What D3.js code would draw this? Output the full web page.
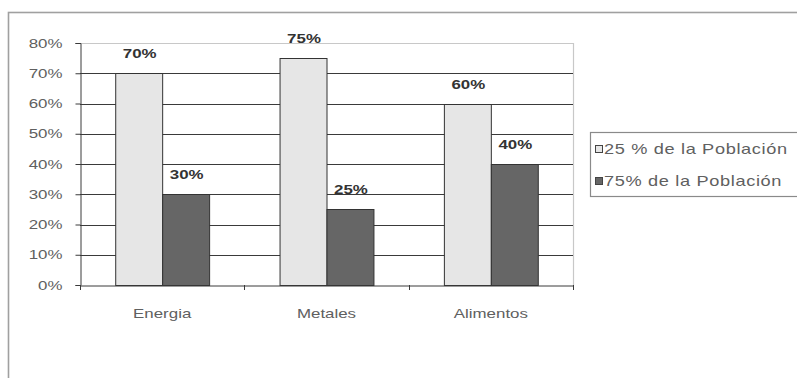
<!DOCTYPE html>
<html>
<head>
<meta charset="utf-8">
<script src="https://cdn.jsdelivr.net/npm/d3@7"></script>
<style>
  html, body { margin: 0; padding: 0; background: #fff; }
  svg { display: block; font-family: "Liberation Sans", Arial, sans-serif; }
</style>
</head>
<body>
<svg id="chart" width="797" height="378"></svg>
<script>
// Distribución del consumo por grupo de población
const categories = ["Energia", "Metales", "Alimentos"];
const seriesNames = ["25 % de la Población", "75% de la Población"];
const poblacion25 = [0.70, 0.75, 0.60];
const poblacion75 = [0.30, 0.25, 0.40];
const yTicks = [0, 0.1, 0.2, 0.3, 0.4, 0.5, 0.6, 0.7, 0.8];
const seriesFill = ["#e6e6e6", "#666666"];

const rows = categories.map((c, i) => ({
  category: c,
  values: [poblacion25[i], poblacion75[i]]
}));

// all text is drawn slightly widened horizontally
const stretch = 1.3;
function widen(sel) {
  sel.attr("transform", function () {
    const x = +this.getAttribute("x") || 0;
    return `translate(${x},0) scale(${stretch},1)`;
  }).attr("x", 0);
}

const svg = d3.select("#chart");
const plot = { left: 80, right: 573, top: 43, bottom: 285 };

// outer frame
svg.append("rect")
  .attr("x", 8.5).attr("y", 12.5)
  .attr("width", 830).attr("height", 420)
  .attr("fill", "none").attr("stroke", "#a0a0a0").attr("stroke-width", 1.6);

const y = d3.scaleLinear().domain([0, 0.8]).range([plot.bottom, plot.top]);
const x0 = d3.scaleBand().domain(categories).range([plot.left, plot.right]).padding(0);
const x1 = d3.scaleBand().domain(d3.range(seriesNames.length))
  .range([0, x0.bandwidth()]).paddingInner(0).paddingOuter(0.75);

// plot area border (top & right)
svg.append("path")
  .attr("d", `M${plot.left},${plot.top + 0.5}H${plot.right + 0.5}V${plot.bottom}`)
  .attr("fill", "none").attr("stroke", "#c8c8c8").attr("stroke-width", 1.2);

// horizontal gridlines
svg.append("g").selectAll("line")
  .data(yTicks.filter(t => t > 0 && t < 0.8))
  .join("line")
  .attr("x1", plot.left).attr("x2", plot.right)
  .attr("y1", d => Math.round(y(d)) + 0.5).attr("y2", d => Math.round(y(d)) + 0.5)
  .attr("stroke", "#3a3a3a").attr("stroke-width", 1);

// bars
const groups = svg.append("g").selectAll("g")
  .data(rows).join("g")
  .attr("transform", d => `translate(${x0(d.category)},0)`);

groups.selectAll("rect")
  .data(d => d.values.map((v, i) => ({ v, i })))
  .join("rect")
  .attr("x", d => x1(d.i) + 0.5)
  .attr("y", d => Math.round(y(d.v)) + 0.5)
  .attr("width", x1.bandwidth())
  .attr("height", d => plot.bottom - Math.round(y(d.v)))
  .attr("fill", d => seriesFill[d.i])
  .attr("stroke", "#333").attr("stroke-width", 1);

// value labels
groups.selectAll("g.val")
  .data(d => d.values.map((v, i) => ({ v, i })))
  .join("g")
  .attr("class", "val")
  .attr("transform", d => `translate(${x1(d.i) + x1.bandwidth() / 2 + 1},${y(d.v) - 15})`)
  .append("text")
  .attr("text-anchor", "middle")
  .attr("font-size", 13).attr("font-weight", "bold").attr("fill", "#333")
  .text(d => d3.format(".0%")(d.v))
  .call(widen);

// y axis
const yAxis = svg.append("g")
  .attr("transform", `translate(${plot.left + 0.5},0)`)
  .call(d3.axisLeft(y).tickValues(yTicks).tickFormat(d3.format(".0%")).tickSize(5).tickPadding(13));
yAxis.select(".domain").attr("stroke", "#3a3a3a");
yAxis.selectAll(".tick line").attr("stroke", "#3a3a3a");
yAxis.selectAll(".tick text").attr("font-size", 13).attr("fill", "#606060")
  .attr("font-family", "'Liberation Sans', Arial, sans-serif")
  .call(widen);

// x axis
const xAxis = svg.append("g")
  .attr("transform", `translate(0,${plot.bottom + 0.5})`)
  .call(d3.axisBottom(x0).tickSize(0).tickPadding(23));
xAxis.select(".domain").attr("stroke", "#3a3a3a");
xAxis.selectAll(".tick text").attr("font-size", 13).attr("fill", "#606060")
  .attr("font-family", "'Liberation Sans', Arial, sans-serif")
  .call(widen);
// category separators below axis
svg.append("g").selectAll("line")
  .data(d3.range(categories.length + 1))
  .join("line")
  .attr("x1", i => Math.round(plot.left + i * x0.step()) + 0.5)
  .attr("x2", i => Math.round(plot.left + i * x0.step()) + 0.5)
  .attr("y1", plot.bottom).attr("y2", plot.bottom + 5)
  .attr("stroke", "#3a3a3a");

// legend
const legend = svg.append("g").attr("transform", "translate(590,132)");
legend.append("rect")
  .attr("x", 0.5).attr("y", 0.5).attr("width", 240).attr("height", 64)
  .attr("fill", "#fff").attr("stroke", "#8a8a8a").attr("stroke-width", 1.2);
const items = legend.selectAll("g.item")
  .data(seriesNames).join("g")
  .attr("class", "item")
  .attr("transform", (d, i) => `translate(0,${17 + i * 32})`);
items.append("rect")
  .attr("x", 5.5).attr("y", -3.5).attr("width", 7).attr("height", 7)
  .attr("fill", (d, i) => seriesFill[i]).attr("stroke", "#444");
items.append("text")
  .attr("x", 14).attr("y", 0).attr("dy", "0.35em")
  .attr("font-size", 14).attr("letter-spacing", 0.5).attr("fill", "#606060")
  .text(d => d)
  .call(widen);
</script>
</body>
</html>
